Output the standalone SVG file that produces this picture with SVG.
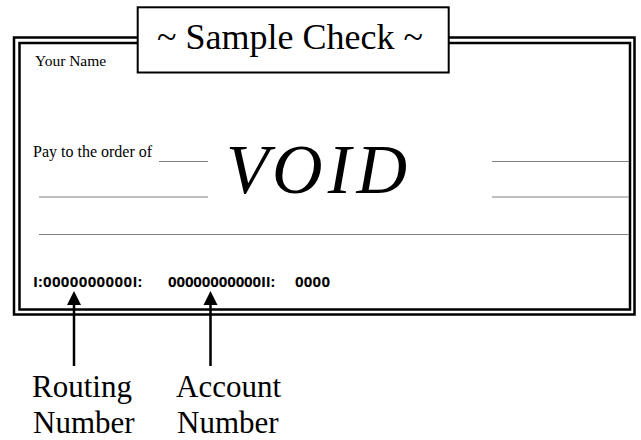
<svg xmlns="http://www.w3.org/2000/svg" width="641" height="440" viewBox="0 0 641 440">
<style>
.serif{font-family:"Liberation Serif","Times New Roman",serif;fill:#000}
.micr{font-family:"Open Sans","Liberation Sans",sans-serif;font-weight:bold;font-size:15px;fill:#000}
.border{fill:none;stroke:#000;stroke-width:2.5}
.rule{stroke:#808080;stroke-width:1}
.arrow{stroke:#000;stroke-width:2.5;fill:none}
</style>
<g id="check">
<rect class="border" x="14" y="37.5" width="620.5" height="277"/>
<rect class="border" x="19.5" y="43" width="610.5" height="266.5"/>
<text class="serif" x="35" y="66" font-size="15.5">Your Name</text>
<text class="serif" x="33" y="157" font-size="16">Pay to the order of</text>
<line class="rule" x1="159" y1="161.5" x2="208" y2="161.5"/>
<line class="rule" x1="39" y1="197" x2="208" y2="197"/>
<line class="rule" x1="39" y1="234.5" x2="629" y2="234.5"/>
<line class="rule" x1="492" y1="161.5" x2="629" y2="161.5"/>
<line class="rule" x1="492" y1="197" x2="629" y2="197"/>
<text class="serif" x="226" y="193" font-size="70" font-style="italic" textLength="181">VOID</text>
<text class="micr" x="33" y="287" textLength="109">I:0000000000I:</text>
<text class="micr" x="168" y="287" textLength="107">00000000000II:</text>
<text class="micr" x="295" y="287" textLength="35">0000</text>
</g>
<g id="title">
<rect x="137.7" y="7.3" width="311" height="65.2" fill="#fff" stroke="#000" stroke-width="2"/>
<text class="serif" x="157" y="48.5" font-size="36">~ Sample Check ~</text>
</g>
<g id="connectors">
<line class="arrow" x1="74" y1="366" x2="74" y2="304"/>
<path d="M74,291 L67,305 L81,305 z" fill="#000"/>
<line class="arrow" x1="210.5" y1="366" x2="210.5" y2="304"/>
<path d="M210.5,291 L203.5,305 L217.5,305 z" fill="#000"/>
</g>
<g id="routing">
<text class="serif" x="32" y="397" font-size="31">Routing</text>
<text class="serif" x="33" y="433" font-size="31">Number</text>
</g>
<g id="account">
<text class="serif" x="176" y="397" font-size="31">Account</text>
<text class="serif" x="177" y="433" font-size="31">Number</text>
</g>
</svg>
